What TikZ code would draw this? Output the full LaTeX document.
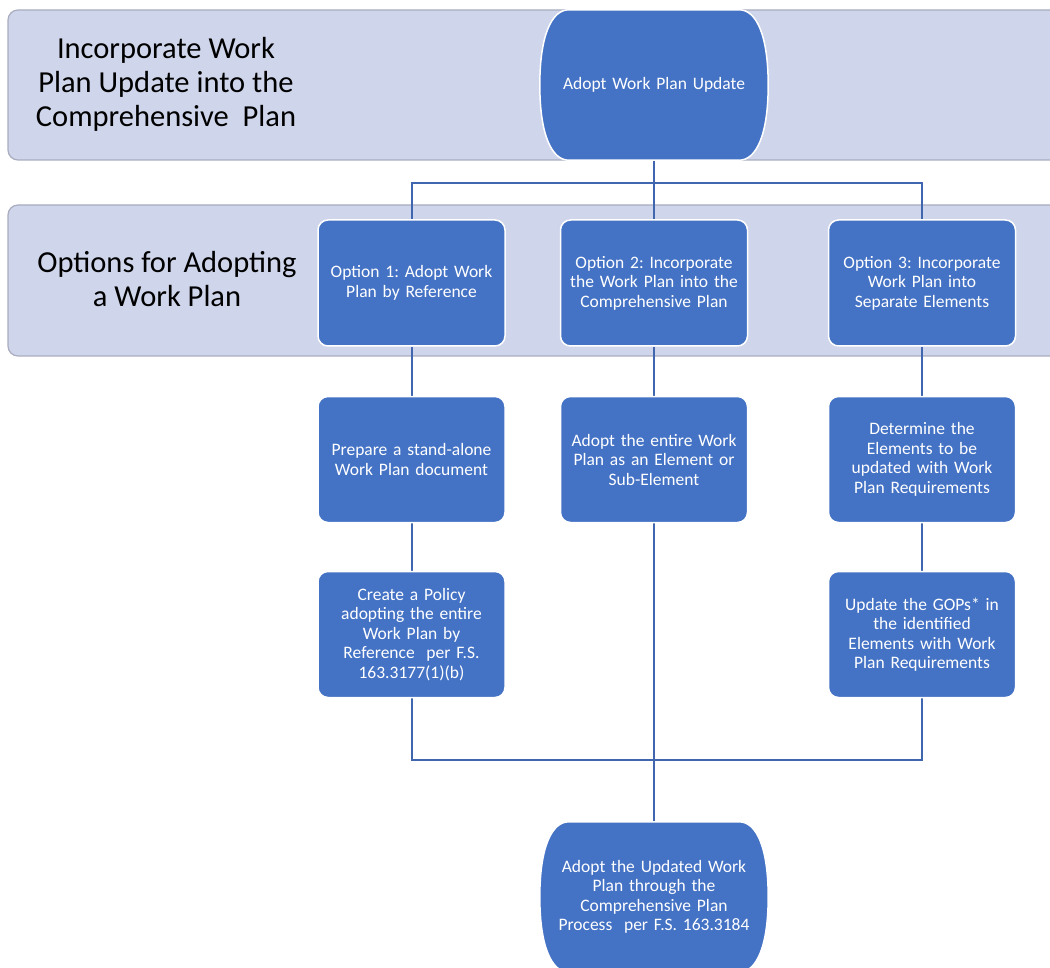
\documentclass[tikz,border=0pt]{standalone}
\usepackage{fontspec}
\setmainfont{Carlito}
\frenchspacing
\definecolor{boxblue}{HTML}{4472C4}
\definecolor{bandfill}{HTML}{CFD5EA}
\definecolor{bandline}{HTML}{A9ADBF}
\definecolor{connblue}{HTML}{3F66AE}
\pgfdeclarelayer{bg}
\pgfdeclarelayer{mid}
\pgfsetlayers{bg,mid,main}
\tikzset{
  band/.style={fill=bandfill, draw=bandline, line width=1.2pt, rounded corners=10pt},
  stepbox/.style={rectangle, rounded corners=10pt, fill=boxblue, draw=white, line width=1.5pt,
    minimum width=187pt, minimum height=126pt, text width=185pt, align=center,
    text=white, font=\fontsize{17.5}{19.5}\selectfont, inner sep=0pt},
  termnode/.style={rectangle, minimum width=228pt, minimum height=150pt, text width=215pt,
    align=center, text=white, font=\fontsize{17.5}{19.5}\selectfont, inner sep=0pt},
  termshape/.style={fill=boxblue, draw=white, line width=1.5pt},
  conn/.style={draw=connblue, line width=2pt},
  lanelabel/.style={align=center, font=\fontsize{30.5}{34}\selectfont, text=black}
}
\newcommand{\termpath}[1]{%
  \begin{pgfonlayer}{mid}
  \path[termshape] ([xshift=29pt]#1.north west) -- ([xshift=-29pt]#1.north east)
    .. controls ([xshift=-12pt]#1.north east) and ([yshift=50pt]#1.east) .. (#1.east)
    .. controls ([yshift=-50pt]#1.east) and ([xshift=-12pt]#1.south east) .. ([xshift=-29pt]#1.south east)
    -- ([xshift=29pt]#1.south west)
    .. controls ([xshift=12pt]#1.south west) and ([yshift=-50pt]#1.west) .. (#1.west)
    .. controls ([yshift=50pt]#1.west) and ([xshift=12pt]#1.north west) .. ([xshift=29pt]#1.north west) -- cycle;
  \end{pgfonlayer}}
\begin{document}
\begin{tikzpicture}[x=1pt,y=-1pt]
\useasboundingbox (0,0) rectangle (1050,968);
\begin{pgfonlayer}{bg}
\fill[white] (0,0) rectangle (1050,968);
\path[band] (8,10) rectangle (1075,160);
\path[band] (8,205) rectangle (1075,356);
\end{pgfonlayer}

\node[lanelabel] (l1) at (166,84) {Incorporate Work\\Plan Update into the\\Comprehensive\ \ Plan};
\node[lanelabel] (l2) at (167,279) {Options for Adopting\\a Work Plan};

\node[termnode] (top) at (654,85) {Adopt Work Plan Update};
\termpath{top}

\node[stepbox] (o1) at (411.5,283) {Option 1: Adopt Work\\Plan by Reference};
\node[stepbox] (o2) at (654,283) {Option 2: Incorporate\\the Work Plan into the\\Comprehensive Plan};
\node[stepbox] (o3) at (922,283) {Option 3: Incorporate\\Work Plan into\\Separate Elements};

\node[stepbox] (p1) at (411.5,459.5) {Prepare a stand-alone\\Work Plan document};
\node[stepbox] (a2) at (654,459.5) {Adopt the entire Work\\Plan as an Element or\\Sub-Element};
\node[stepbox] (d3) at (922,459.5) {Determine the\\Elements to be\\updated with Work\\Plan Requirements};

\node[stepbox] (c1) at (411.5,634.5) {Create a Policy\\adopting the entire\\Work Plan by\\Reference\ \ per F.S.\\163.3177(1)(b)};
\node[stepbox] (u3) at (922,634.5) {Update the GOPs* in\\the identified\\Elements with Work\\Plan Requirements};

\node[termnode] (bot) at (654,897) {Adopt the Updated Work\\Plan through the\\Comprehensive Plan\\Process\ \ per F.S. 163.3184};
\termpath{bot}

\coordinate (hb) at (654,183);
\coordinate (hm) at (654,760);

\begin{pgfonlayer}{bg}
\draw[conn] (top.south) -- (o2.north);
\draw[conn] (o1.north) -- (o1.north |- hb) -- (o3.north |- hb) -- (o3.north);
\draw[conn] (o1.south) -- (p1.north);
\draw[conn] (p1.south) -- (c1.north);
\draw[conn] (o2.south) -- (a2.north);
\draw[conn] (o3.south) -- (d3.north);
\draw[conn] (d3.south) -- (u3.north);
\draw[conn] (c1.south) -- (c1.south |- hm) -- (u3.south |- hm) -- (u3.south);
\draw[conn] (a2.south) -- (a2.south |- hm);
\draw[conn] (hm) -- (bot.north);
\end{pgfonlayer}
\end{tikzpicture}
\end{document}
